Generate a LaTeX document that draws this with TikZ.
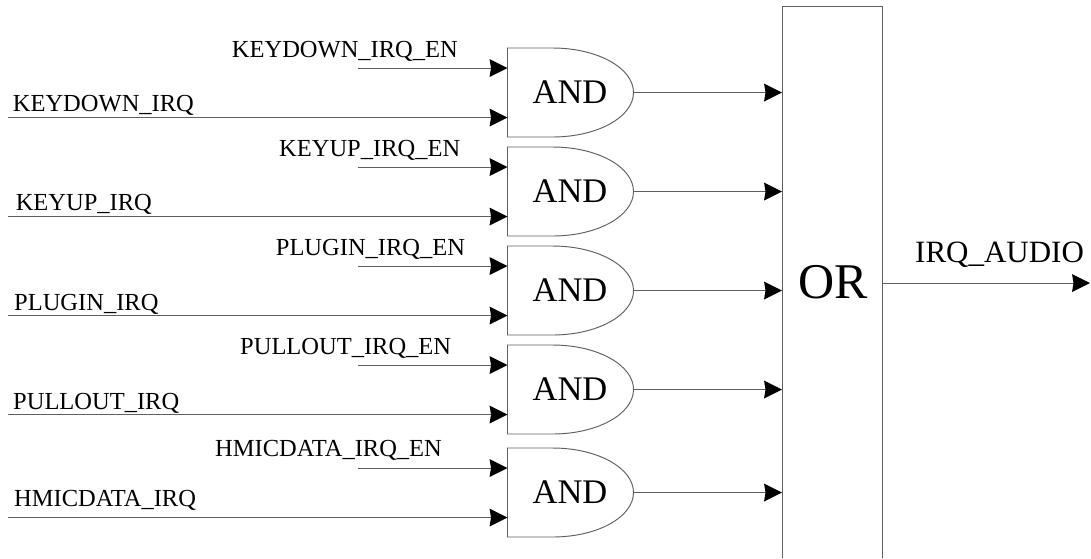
\documentclass[tikz,border=0pt]{standalone}
\usepackage{fontspec}
\setmainfont{Liberation Serif}
\usetikzlibrary{arrows.meta}
\definecolor{wirec}{HTML}{606060}
\tikzset{
  x=1pt,y=-1pt,
  wire/.style={draw=wirec,line width=0.95pt},
  sig/.style={wire,-{Stealth[length=18pt,width=18pt,inset=1.5pt,fill=black,color=black,line width=0pt]}},
  gatebody/.style={minimum width=126pt,minimum height=89pt,inner sep=0pt,outer sep=0pt,anchor=north west},
  gatetext/.style={inner sep=0pt,font=\fontsize{34.5}{35}\selectfont},
  lab/.style={anchor=base west,inner sep=0pt,font=\fontsize{24.5}{26}\selectfont},
  orbody/.style={minimum width=100pt,minimum height=552pt,inner sep=0pt,outer sep=0pt,anchor=north west},
}
% #1 name, #2 top y
\newcommand{\andgate}[2]{%
  \begin{scope}[shift={(507.5,#2)}]
    \node[gatebody] (#1) at (0,0) {};
    \node[gatetext] (#1t) at (62.5,44.5) {AND};
    \draw[wire] (0,0) -- (45,0) .. controls (90,0) and (126,20) .. (126,44.5)
      .. controls (126,69) and (90,89) .. (45,89) -- (0,89) -- cycle;
    \coordinate (#1a) at (0,20);
    \coordinate (#1b) at (0,69.5);
    \coordinate (#1sa) at (-149.5,20);
    \coordinate (#1sb) at (-499.5,69.5);
  \end{scope}
  \draw[sig] (#1sa) -- (#1a);
  \draw[sig] (#1sb) -- (#1b);
  \draw[sig] (#1.east) -- (or.west |- #1.east);
}
\begin{document}
\begin{tikzpicture}
\useasboundingbox (0,0) rectangle (1091,558);
\node[orbody] (or) at (782,6) {};
\draw[wire] (or.south west) -- (or.north west) -- (or.north east) -- (or.south east);
\node[font=\fontsize{50}{50}\selectfont,inner sep=0pt] (ortext) at (833,282.5) {OR};
\andgate{g1}{48}
\andgate{g2}{147}
\andgate{g3}{246}
\andgate{g4}{345}
\andgate{g5}{448}
\node[lab] (l1a) at (231.7,57.3) {KEYDOWN\_IRQ\_EN};
\node[lab] (l1b) at (12.7,111.7) {KEYDOWN\_IRQ};
\node[lab] (l2a) at (279,156) {KEYUP\_IRQ\_EN};
\node[lab] (l2b) at (15.6,210) {KEYUP\_IRQ};
\node[lab] (l3a) at (275.7,255.3) {PLUGIN\_IRQ\_EN};
\node[lab] (l3b) at (14,310) {PLUGIN\_IRQ};
\node[lab] (l4a) at (240,354.3) {PULLOUT\_IRQ\_EN};
\node[lab] (l4b) at (13,409.3) {PULLOUT\_IRQ};
\node[lab] (l5a) at (215,456.7) {HMICDATA\_IRQ\_EN};
\node[lab] (l5b) at (14,506.7) {HMICDATA\_IRQ};
\coordinate (orend) at (1090,283);
\draw[sig] (or.east |- orend) -- (orend);
\node[lab,font=\fontsize{31}{33}\selectfont] (orlab) at (915,262.5) {IRQ\_AUDIO};
\end{tikzpicture}
\end{document}
